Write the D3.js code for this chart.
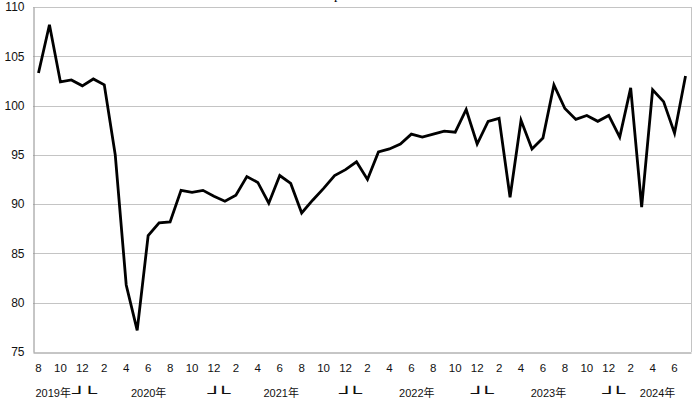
<!DOCTYPE html>
<html>
<head>
<meta charset="utf-8">
<script src="https://cdn.jsdelivr.net/npm/d3@7/dist/d3.min.js"></script>
<style>
  html, body { margin: 0; padding: 0; background: #fff; }
  svg { display: block; }
</style>
</head>
<body>
<svg id="chart" width="700" height="403"></svg>
<script>
// ---- data ----
const monthNumbers = [8,9,10,11,12,
  1,2,3,4,5,6,7,8,9,10,11,12,
  1,2,3,4,5,6,7,8,9,10,11,12,
  1,2,3,4,5,6,7,8,9,10,11,12,
  1,2,3,4,5,6,7,8,9,10,11,12,
  1,2,3,4,5,6,7];
const values = [103.3,108.2,102.4,102.6,102.0,
  102.7,102.1,95.0,81.8,77.2,86.8,88.1,88.2,91.4,91.2,91.4,90.8,
  90.3,90.9,92.8,92.2,90.1,92.9,92.1,89.1,90.4,91.6,92.9,93.5,
  94.3,92.5,95.3,95.6,96.1,97.1,96.8,97.1,97.4,97.3,99.6,96.1,
  98.4,98.7,90.7,98.5,95.6,96.7,102.1,99.7,98.6,99.0,98.4,99.0,
  96.8,101.8,89.7,101.6,100.4,97.2,103.0];
const yearLabels = ["2019年","2020年","2021年","2022年","2023年","2024年"];
const yTicks = [75,80,85,90,95,100,105,110];

// ---- layout ----
const svg = d3.select("#chart");
const L = 33, R = 691, T = 7, B = 352;
const font = "'Liberation Sans', Arial, 'Noto Sans CJK JP', sans-serif";

const idx = d3.range(values.length);
const x = d3.scaleBand().domain(idx).range([L, R]).padding(0);
const cx = i => x(i) + x.bandwidth() / 2;
const y = d3.scaleLinear().domain([75, 110]).range([B, T]);

// title fragment (cut off at the top)
svg.append("text").attr("x", 334).attr("y", -1)
  .attr("font-family", "'Liberation Serif', serif").attr("font-size", 14)
  .attr("fill", "#000").text("p");

// gridlines
svg.append("g").selectAll("line").data(yTicks.filter(d => d > 75)).join("line")
  .attr("x1", L).attr("x2", R)
  .attr("y1", d => Math.round(y(d)) + 0.5).attr("y2", d => Math.round(y(d)) + 0.5)
  .attr("stroke", "#c4c4c4").attr("stroke-width", 1);

// right border
svg.append("line").attr("x1", R + 0.5).attr("x2", R + 0.5).attr("y1", T).attr("y2", B)
  .attr("stroke", "#c4c4c4");

// y axis
const yAxis = d3.axisLeft(y).tickValues(yTicks).tickSize(0).tickPadding(9);
const gy = svg.append("g").attr("transform", `translate(${L + 0.5},0)`).call(yAxis);
gy.select(".domain").attr("stroke", "#8c8c8c");
gy.selectAll("text").attr("font-family", font).attr("font-size", 12).attr("fill", "#111");

// x axis
const xAxis = d3.axisBottom(x).tickSize(0).tickPadding(11)
  .tickFormat(i => (i % 2 === 0 ? String(monthNumbers[i]) : ""));
const gx = svg.append("g").attr("transform", `translate(0,${B + 0.5})`).call(xAxis);
gx.select(".domain").attr("stroke", "#8c8c8c");
gx.selectAll("text").attr("font-family", font).attr("font-size", 11.5).attr("fill", "#111");

// year labels
let yearStarts = [];
monthNumbers.forEach((m, i) => { if (i === 0 || m === 1) yearStarts.push(i); });
const yearGroups = yearStarts.map((s, k) => {
  const e = k + 1 < yearStarts.length ? yearStarts[k + 1] - 1 : values.length - 1;
  return { s, e, label: yearLabels[k] };
});
const yl = svg.append("g");
let firstEnd = 0;
yearGroups.forEach((g, k) => {
  let xpos, anchor = "middle";
  if (k === 0) { xpos = cx(g.s) - 3; anchor = "start"; }
  else if (k === yearGroups.length - 1) { xpos = (cx(g.s) + cx(g.e)) / 2 + 5; }
  else { xpos = (cx(g.s) + cx(g.e)) / 2 - (k === 1 ? 5 : (k === 2 ? 4 : 0)); }
  const t = yl.append("text").attr("x", xpos).attr("y", 397).attr("text-anchor", anchor)
    .attr("font-family", font).attr("font-size", 11).attr("fill", "#111").text(g.label);
  if (k === 0) firstEnd = xpos + t.node().getComputedTextLength();
});

// year boundary brackets: one text "┘└" per boundary
const bfont = "'DejaVu Sans Mono', monospace";
const BS = 13, SX = 1.9, ADV = 0.602 * BS;
function bracketPair(cornerL, cornerR) {
  const gapPre = (cornerR - cornerL) / SX;     // distance between the two corners before scaling
  const ls = gapPre - ADV;
  yl.append("text")
    .attr("transform", `translate(${cornerL - (ADV / 2) * SX},397.5) scale(${SX},1)`)
    .attr("x", 0).attr("y", 0).attr("text-anchor", "start")
    .attr("letter-spacing", ls)
    .attr("font-family", bfont).attr("font-size", BS).attr("fill", "#111").text("┘└");
}
yearStarts.slice(1).forEach((s, k) => {
  const bx = x(s);
  if (k === 0) bracketPair(firstEnd + 9, bx + 2);
  else bracketPair(bx - 4, bx + 4);
});

// line
const line = d3.line().x((d, i) => cx(i)).y(d => y(d)).curve(d3.curveLinear);
svg.append("path").datum(values).attr("d", line)
  .attr("fill", "none").attr("stroke", "#000").attr("stroke-width", 2.8)
  .attr("stroke-linejoin", "miter").attr("stroke-miterlimit", 4);
</script>
</body>
</html>
